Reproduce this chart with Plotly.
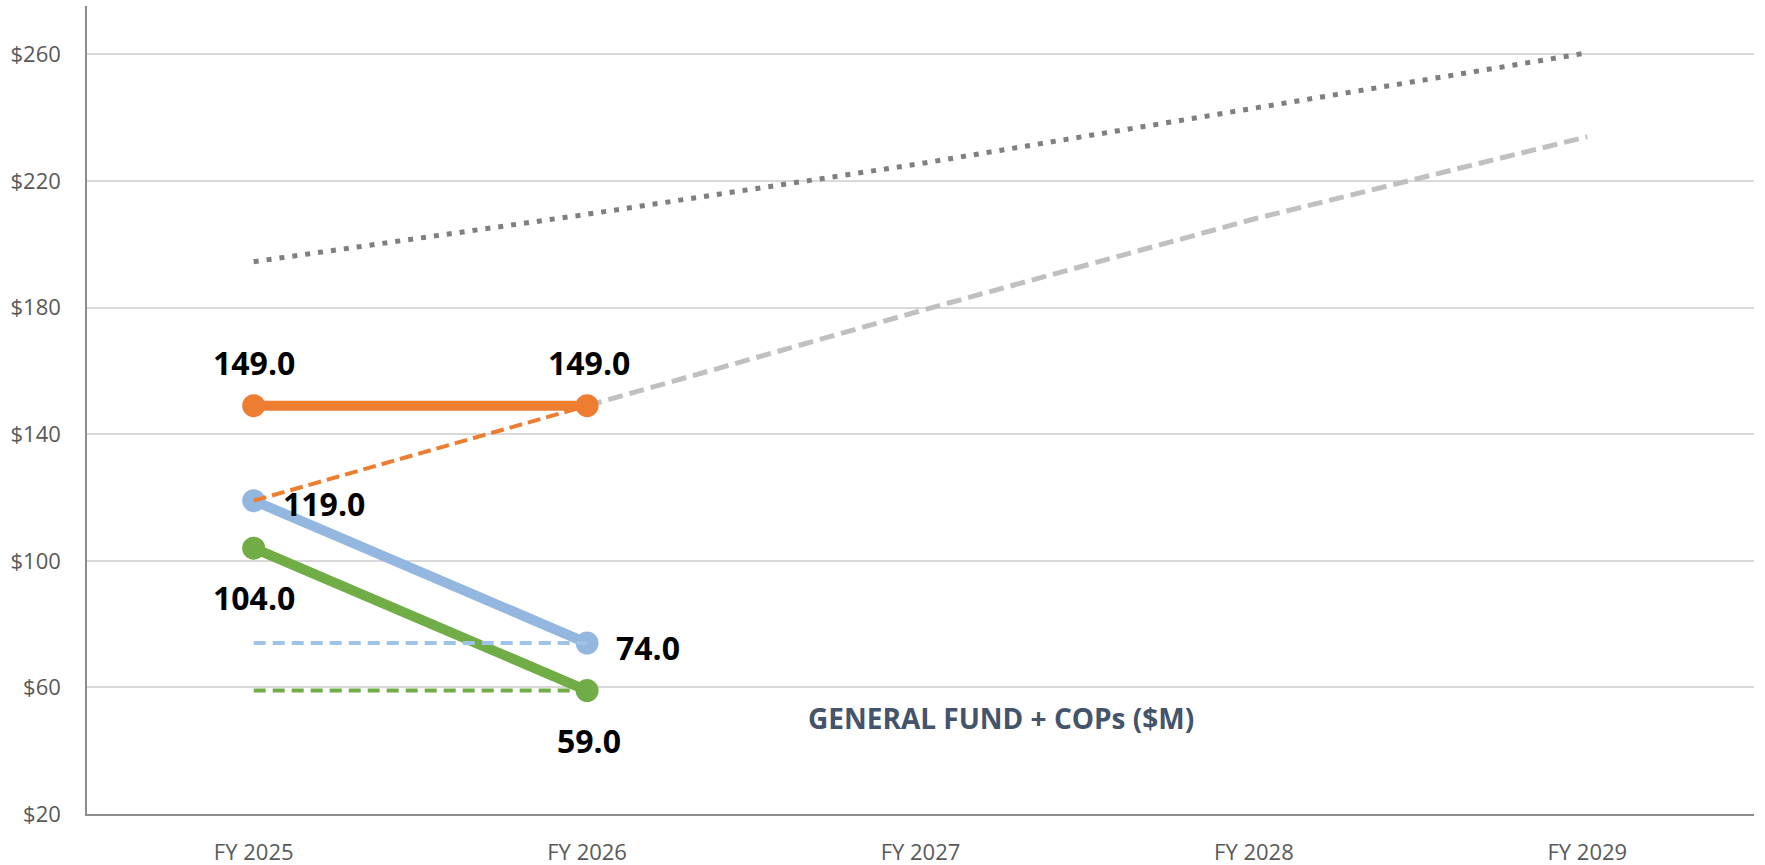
import plotly.graph_objects as go

# ---- data ----
years = ["FY 2025", "FY 2026", "FY 2027", "FY 2028", "FY 2029"]

orange_actual = [149.0, 149.0]
blue_actual = [119.0, 74.0]
green_actual = [104.0, 59.0]

orange_dashed = [119.0, 149.0]
blue_dashed = [74.0, 74.0]
green_dashed = [59.0, 59.0]

gray_dashed = [None, 149.0, 179.0, 208.0, 234.0]
gray_dotted = [194.5, 209.5, 225.5, 243.0, 260.5]

y_ticks = [20, 60, 100, 140, 180, 220, 260]
y_tick_text = ["$" + str(v) for v in y_ticks]

title_text = "GENERAL FUND + COPs ($M)"

# ---- styles ----
ORANGE = "#ED7D31"
BLUE = "#94B7DF"
BLUE_LIGHT = "#9DC3E6"
GREEN = "#70AD47"
GRAY_DASH = "#C0C0C0"
GRAY_DOT = "#7F7F7F"

fig = go.Figure()

fig.add_trace(go.Scatter(x=years, y=gray_dotted, mode="lines",
                         line=dict(color=GRAY_DOT, width=5, dash="5px,8px"),
                         hoverinfo="skip", showlegend=False))
fig.add_trace(go.Scatter(x=years, y=gray_dashed, mode="lines",
                         line=dict(color=GRAY_DASH, width=5, dash="15px,7px"),
                         hoverinfo="skip", showlegend=False))

for vals, col in [(orange_actual, ORANGE), (blue_actual, BLUE), (green_actual, GREEN)]:
    fig.add_trace(go.Scatter(x=years[:len(vals)], y=vals, mode="lines+markers",
                             line=dict(color=col, width=10),
                             marker=dict(color=col, size=23),
                             showlegend=False))

fig.add_trace(go.Scatter(x=years[:2], y=blue_dashed, mode="lines",
                         line=dict(color=BLUE_LIGHT, width=4, dash="12px,7px"),
                         showlegend=False))
fig.add_trace(go.Scatter(x=years[:2], y=green_dashed, mode="lines",
                         line=dict(color=GREEN, width=4, dash="12px,7px"),
                         showlegend=False))
fig.add_trace(go.Scatter(x=years[:2], y=orange_dashed, mode="lines",
                         line=dict(color=ORANGE, width=4, dash="13px,6px"),
                         showlegend=False))

# data labels (offsets in px: xshift, yshift)
label_specs = [
    (orange_actual, [(0, 43), (2, 43)]),
    (blue_actual, [(70, -3), (61, -4)]),
    (green_actual, [(0, -49), (2, -50)]),
]
annotations = []
for vals, offsets in label_specs:
    for i, v in enumerate(vals):
        dx, dy = offsets[i]
        annotations.append(dict(
            x=years[i], y=v, xref="x", yref="y", text="<b>%.1f</b>" % v,
            showarrow=False, xshift=dx, yshift=dy,
            font=dict(family="Open Sans", size=32, color="#000000"),
            xanchor="center", yanchor="middle"))

annotations.append(dict(
    x=0.548, y=0.119, xref="paper", yref="paper", text="<b>" + title_text + "</b>",
    showarrow=False, xanchor="center", yanchor="middle",
    font=dict(family="Open Sans", size=28, color="#44546A")))

fig.update_layout(
    width=1765, height=865,
    margin=dict(l=87, r=11, t=6, b=51),
    paper_bgcolor="white", plot_bgcolor="white",
    annotations=annotations,
    font=dict(family="Open Sans", size=22, color="#595959"),
)

fig.update_xaxes(
    type="category", categoryorder="array", categoryarray=years,
    range=[-0.5, 4.5], showgrid=False, zeroline=False,
    showline=True, linecolor="#8C8C8C", linewidth=1.5,
    ticks="", ticklabelstandoff=18, automargin=False,
    tickfont=dict(family="Open Sans", size=22, color="#595959"),
)
fig.update_yaxes(
    range=[20, 275.3], tickvals=y_ticks, ticktext=y_tick_text,
    showgrid=True, gridcolor="#D9D9D9", gridwidth=1.5, zeroline=False,
    showline=True, linecolor="#8C8C8C", linewidth=1.5,
    ticks="", ticklabelstandoff=20, automargin=False,
    tickfont=dict(family="Open Sans", size=22, color="#595959"),
)

fig.write_html("out.html", config={"displayModeBar": False},
               post_script="document.body.style.margin='0';")
